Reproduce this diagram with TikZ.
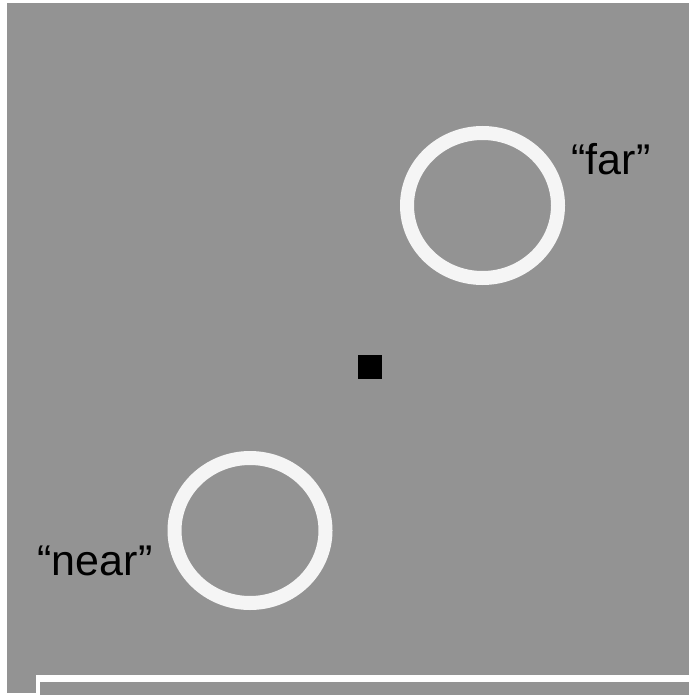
\documentclass[tikz,border=0pt]{standalone}
\usepackage{fontspec}
\setmainfont{Liberation Sans}
\definecolor{bggray}{RGB}{147,147,147}
\definecolor{ringwhite}{RGB}{245,245,245}
\begin{document}
\begin{tikzpicture}[x=1pt,y=-1pt,
  ring/.style={draw=ringwhite,line width=14pt},
  label/.style={anchor=base,inner sep=0pt,font=\fontsize{43}{43}\selectfont,text=black}]
\useasboundingbox (0,0) rectangle (689,695);
\fill[white] (0,0) rectangle (689,695);
\fill[bggray] (7,3) rectangle (689,675);
\fill[bggray] (7,675) rectangle (36,693);
\fill[bggray] (40,682) rectangle (689,695);
\draw[ring] (482.5,205.5) ellipse [x radius=75.5, y radius=72.5];
\draw[ring] (250,530.5) ellipse [x radius=75.5, y radius=72.5];
\fill[black] (358,355) rectangle (382,379);
\node[label] (far) at (611,175) {“far”};
\node[label] (near) at (95,575) {“near”};
\end{tikzpicture}
\end{document}
